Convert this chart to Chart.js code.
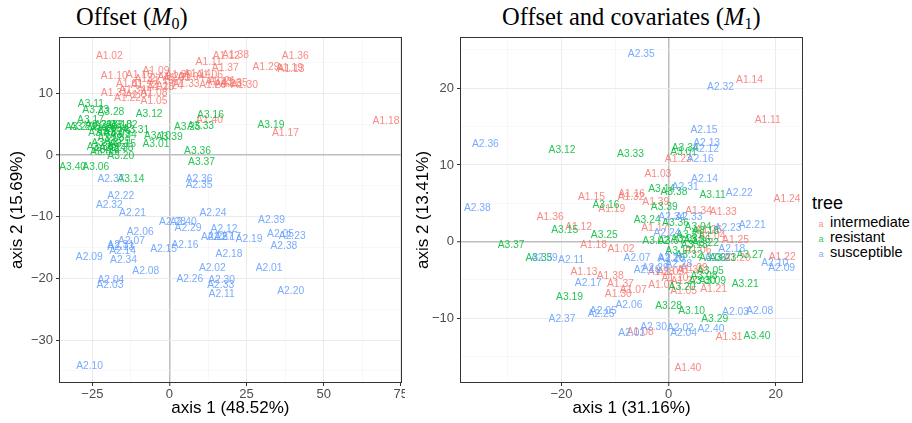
<!DOCTYPE html>
<html>
<head>
<meta charset="utf-8">
<script src="https://cdn.jsdelivr.net/npm/chart.js@4.4.1/dist/chart.umd.min.js"></script>
<style>
  body { margin: 0; background: #fff; width: 912px; height: 423px; position: relative; overflow: hidden; }
  .wrap { position: absolute; top: 0; height: 423px; overflow: hidden; }
  canvas { position: absolute; top: 0; left: 0; }
  .title { position: absolute; top: 3px; font: 24.5px "Liberation Serif", "DejaVu Serif", serif; color: #000; white-space: nowrap; }
  .title sub { font-size: 16px; vertical-align: -4px; }
  #legend { position: absolute; left: 812px; top: 193px; font-family: "Liberation Sans", Arial, sans-serif; color: #000; }
  #legend .head { font-size: 18px; margin-bottom: 1px; }
  #legend .item { font-size: 14.5px; height: 15px; line-height: 15px; white-space: nowrap; }
  #legend .key { display: inline-block; width: 18px; text-align: center; font-size: 9px; }
</style>
</head>
<body>
<div class="title" style="left:76px">Offset (<i>M</i><sub>0</sub>)</div>
<div class="title" style="left:502px">Offset and covariates (<i>M</i><sub>1</sub>)</div>
<div class="wrap" style="left:0; width:405px"><canvas id="m0" width="409" height="423"></canvas></div>
<div class="wrap" style="left:410px; width:400px"><canvas id="m1" width="400" height="423"></canvas></div>
<div id="legend"></div>
<script>
document.addEventListener('DOMContentLoaded', () => {

    const groups = ['intermediate', 'resistant', 'susceptible'];
    const prefixes = ['A1', 'A3', 'A2'];
    const colors = ['rgba(248,118,109,0.85)', 'rgba(0,186,56,0.85)', 'rgba(97,156,255,0.85)'];

    // sample names A1.01 ... A1.40 etc.
    const sampleIds = (p) => Array.from({ length: 40 }, (_, i) => p + '.' + String(i + 1).padStart(2, '0'));

    // Offset (M0)
    const m0IntX = [-13, -19.5, 2.3, 7, -5, 13, -10, -5, -4.4, -17.9, 12.7, 18.4, 39.4, 9, -3, -9.8, 37.6, 70.2, 38.9, 0.5,
                    17, -13.6, 16, 0, 19, 14, -7, -2.9, 31.3, 24.3, -17.9, -8.2, 5.4, -12, 21, 40.8, 18.1, 21.4, 3, 13];
    const m0IntY = [11.5, 16.0, 12.5, 12.6, 8.7, 12.9, 9.8, 10.1, 13.6, 12.8, 15.0, 16.0, 14.0, 13.2, 12.0, 12.9, 3.6, 5.5, 14.1, 12.6,
                    12.0, 9.2, 11.8, 11.2, 11.5, 11.3, 12.3, 11.1, 14.2, 11.4, 10.0, 11.4, 11.5, 10.5, 11.6, 16.0, 14.1, 16.2, 12.9, 5.6];
    const m0SusX = [32.3, 13.9, -19.3, -19, 36, -9.5, -12.3, -7.7, -26, -25.9, 16.9, 17.7, -15.8, -15.2, -1.9, 5, 18.8, 19.3, 25.8, 39.3,
                    -12, -15.8, 39.8, 14.1, 14.6, 6.6, 16.5, 1.0, 6, 16.9, -15.8, -19.5, 16.6, -14.9, 9.6, 9.6, -19, 37.1, 33.1, 4.5];
    const m0SusY = [-18.4, -18.3, -21.1, -20.3, -12.8, -12.5, -13.9, -18.9, -16.6, -34.2, -22.5, -12.0, -15.0, -15.5, -15.2, -14.6, -13.3, -16.0, -13.6, -22.0,
                    -9.4, -6.6, -13.2, -9.4, -13.3, -20.1, -13.3, -10.9, -11.8, -20.3, -14.6, -8.1, -21.1, -17.1, -4.8, -3.9, -3.9, -14.7, -10.6, -10.9];
    const m0ResX = [-4.4, -14.7, -20, -18, -21.4, -23.9, -22, -19, -17, -3.9, -25.5, -6.6, -21, -12.5, -15.2, 13.3, -25.6, -16.5, 32.9, -15.8,
                    -28, -23, -23.9, -18.5, 5.8, -20.5, -29.5, -19, -17, -22.5, -10.9, -19.5, 10.1, -15, -21.5, 9.1, 10.4, -16, -0.1, -31.4];
    const m0ResY = [1.7, 4.8, 4.9, 4.2, 0.5, -2.0, 3.5, 2.8, 3.6, 3.0, 8.3, 6.6, 2.0, -3.9, 1.7, 6.5, 5.6, 4.9, 4.9, -0.2,
                    4.5, 4.8, 7.3, 1.2, 4.6, 0.8, 4.6, 7.0, 2.2, 1.3, 4.1, 3.8, 4.7, 3.2, 4.3, 0.7, -1.1, 1.1, 2.9, -1.9];

    // Offset and covariates (M1)
    const m1IntX = [-1.3, -8.9, -2.0, 8.1, 2.8, 5.5, -6.6, -5.3, 0.4, 1.2, 18.5, -16.8, -15.8, 15.1, -14.4, -6.9, -2.6, -14.0, -10.6, 12.8,
                    8.4, 21.2, 1.8, 22.1, 12.5, 7.5, 2.9, -1.4, 4.8, -9.4, 11.3, -7.0, 10.2, 5.6, 4.1, -22.1, -9.0, -10.9, -2.4, 3.6];
    const m1IntY = [-5.7, -1.0, 8.8, 0.7, -6.5, -1.1, -6.3, -11.8, -4.0, -4.8, 15.8, 1.9, -4.0, 21.1, 5.8, 6.2, 1.8, -0.5, 4.2, -2.2,
                    -6.2, -2.0, 10.8, 5.5, 0.2, 1.5, -5.2, -4.0, -3.5, -6.8, -12.5, 5.8, 3.8, 4.0, -3.7, 3.2, -5.6, -4.5, 5.1, -16.5];
    const m1SusX = [-6.9, 2.2, 12.5, 2.8, -12.2, -7.4, -5.9, 17.0, 21.1, 19.8, -18.2, 6.9, 7.1, 6.7, 6.6, 5.9, -15.0, 11.8, -4.0, 0.6,
                    15.6, 13.2, 11.1, -0.3, -12.6, 0.4, 9.2, 1.9, -2.5, -2.8, 3.1, 9.7, 3.8, 0.6, -5.1, -34.2, -19.9, -35.7, -23.2, 7.9];
    const m1SusY = [-11.9, -11.3, -9.2, -11.9, -9.1, -8.3, -2.1, -9.0, -3.5, -2.8, -2.4, 12.0, 12.8, 8.2, 14.5, 10.8, -5.4, -1.0, -3.7, -2.3,
                    2.1, 6.3, 1.8, 1.1, -9.4, -2.1, -2.2, -2.9, -3.4, -11.2, 7.1, 20.1, 3.2, 3.2, 24.4, 12.7, -10.1, 4.3, -2.2, -11.4];
    const m1ResX = [2.8, -2.4, 2.9, 5.5, 7.8, 8.2, 0.5, 6.6, 8.2, 4.3, 8.2, -19.9, 4.8, -1.3, -19.4, -11.7, 1.9, 6.9, -18.5, 2.5,
                    14.3, 6.9, 10.1, -4.0, -12.0, 5.3, 15.2, 0, 8.6, 6.3, 3.9, 3.8, -7.1, 3.1, -24.2, 1.3, -29.4, 1.0, -0.8, 16.5];
    const m1ResY = [11.7, 0.1, 0.3, 1.9, -3.8, -2.1, 0.0, -4.5, -5.2, -9.0, 6.0, 11.9, -0.5, 6.9, 1.5, 4.8, -1.2, 1.4, -7.3, -5.9,
                    -5.5, -0.2, -2.1, 2.8, 0.8, 0.2, -1.7, -8.4, -10.1, -5.2, 0.8, -1.7, 11.4, 12.2, -2.1, 2.4, -0.5, 6.4, 4.5, -12.3];

    // axis ticks
    const m0XTicks = [-25, 0, 25, 50, 75];
    const m0XMinor = [-12.5, 12.5, 37.5, 62.5];
    const m0YTicks = [-30, -20, -10, 0, 10];
    const m0YMinor = [-35, -25, -15, -5, 5, 15];
    const m1XTicks = [-20, 0, 20];
    const m1XMinor = [-30, -10, 10];
    const m1YTicks = [-10, 0, 10, 20];
    const m1YMinor = [-15, -5, 5, 15, 25];

    const tickFont = { family: '"Liberation Sans", Arial, sans-serif', size: 13 };
    const titleFont = { family: '"Liberation Sans", Arial, sans-serif', size: 17 };

    function makeDatasets(xs, ys) {
        return groups.map((g, i) => ({
            label: g,
            labelColor: colors[i],
            data: sampleIds(prefixes[i]).map((id, k) => ({ x: xs[i][k], y: ys[i][k], label: id })),
            pointRadius: 0
        }));
    }

    function axis(min, max, major, minor, title, isX, size, titlePad) {
        return {
            type: 'linear',
            min: min,
            max: max,
            afterBuildTicks: (s) => {
                s.ticks = major.concat(minor).sort((a, b) => a - b).map(v => ({ value: v }));
            },
            afterFit: (s) => {
                if (isX) s.height = size; else s.width = size;
            },
            border: { display: false },
            grid: {
                color: (c) => c.tick.value === 0 ? '#bebebe' : (major.includes(c.tick.value) ? '#ebebeb' : '#f4f4f4'),
                lineWidth: (c) => c.tick.value === 0 ? 1.5 : (major.includes(c.tick.value) ? 1 : 0.6),
                tickColor: (c) => major.includes(c.tick.value) ? '#333333' : 'rgba(0,0,0,0)',
                tickLength: 4,
                tickWidth: 1
            },
            ticks: {
                autoSkip: false,
                maxRotation: 0,
                padding: isX ? 1 : 3,
                color: '#4d4d4d',
                font: tickFont,
                callback: (v) => major.includes(v) ? (v < 0 ? '\u2212' + Math.abs(v) : String(v)) : ''
            },
            title: {
                display: true,
                text: title,
                color: '#000',
                font: titleFont,
                padding: titlePad
            }
        };
    }

    // draws the sample names at their coordinates, plus the panel border
    const textLabels = {
        id: 'textLabels',
        afterDatasetsDraw(chart) {
            const ctx = chart.ctx;
            const a = chart.chartArea;
            const xs = chart.scales.x;
            const ys = chart.scales.y;
            ctx.save();
            ctx.beginPath();
            ctx.rect(a.left, a.top, a.right - a.left, a.bottom - a.top);
            ctx.clip();
            ctx.font = '10.3px "Liberation Sans", Arial, sans-serif';
            ctx.textAlign = 'center';
            ctx.textBaseline = 'middle';
            chart.data.datasets.forEach((ds) => {
                ctx.fillStyle = ds.labelColor;
                ds.data.forEach(p => {
                    ctx.fillText(p.label, xs.getPixelForValue(p.x), ys.getPixelForValue(p.y));
                });
            });
            ctx.restore();
            ctx.save();
            ctx.strokeStyle = '#333333';
            ctx.lineWidth = 1;
            ctx.strokeRect(Math.round(a.left) - 0.5, Math.round(a.top) - 0.5, Math.round(a.right - a.left) + 1, Math.round(a.bottom - a.top) + 1);
            ctx.restore();
        }
    };

    function makeChart(id, datasets, xCfg, yCfg, padRight) {
        return new Chart(document.querySelector('#' + id), {
            type: 'scatter',
            data: { datasets: datasets },
            options: {
                responsive: false,
                animation: false,
                events: [],
                layout: { padding: { top: 38, right: padRight, left: 0, bottom: 0 } },
                plugins: { legend: { display: false }, tooltip: { enabled: false } },
                scales: { x: xCfg, y: yCfg }
            },
            plugins: [textLabels]
        });
    }

    makeChart('m0',
        makeDatasets([m0IntX, m0ResX, m0SusX], [m0IntY, m0ResY, m0SusY]),
        axis(-35.5, 75, m0XTicks, m0XMinor, 'axis 1 (48.52%)', true, 41, { top: 0, bottom: 4 }),
        axis(-36.8, 19.0, m0YTicks, m0YMinor, 'axis 2 (15.69%)', false, 60, { top: 7, bottom: 2 }),
        0);

    makeChart('m1',
        makeDatasets([m1IntX, m1ResX, m1SusX], [m1IntY, m1ResY, m1SusY]),
        axis(-38.75, 24.9, m1XTicks, m1XMinor, 'axis 1 (31.16%)', true, 41, { top: 0, bottom: 4 }),
        axis(-18.3, 26.55, m1YTicks, m1YMinor, 'axis 2 (13.41%)', false, 51, { top: 3, bottom: 2 }),
        8);

    // shared legend
    const legend = document.querySelector('#legend');
    let html = '<div class="head">tree</div>';
    groups.forEach((g, i) => {
        html += '<div class="item"><span class="key" style="color:' + colors[i] + '">a</span>' + g + '</div>';
    });
    legend.innerHTML = html;
});
</script>
</body>
</html>
